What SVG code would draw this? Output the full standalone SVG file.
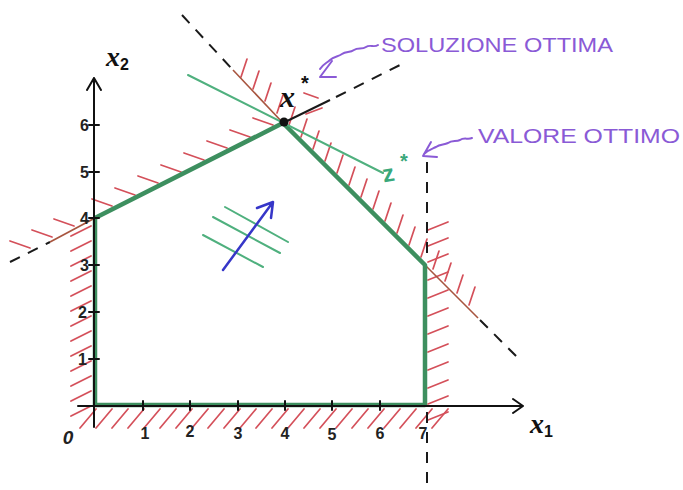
<svg xmlns="http://www.w3.org/2000/svg" width="683" height="490" viewBox="0 0 683 490">
<defs>
<style>
.hatch{fill:none;stroke:#d4505a;stroke-width:1.7;stroke-linecap:round}
.bound{fill:none;stroke:#a8553f;stroke-width:1.6}
.dash{fill:none;stroke:#1a1a1a;stroke-width:2;stroke-dasharray:11 9}
.poly{fill:none;stroke:#3d8f5f;stroke-width:4.5;stroke-linejoin:round}
.iso{fill:none;stroke:#4fb07e;stroke-width:2;stroke-linecap:round}
.axis{fill:none;stroke:#111;stroke-width:2;stroke-linecap:round;stroke-linejoin:round}
.tick{font-family:"Liberation Sans",Arial,sans-serif;font-weight:bold;font-size:16px;fill:#222}
.lab{font-family:"Liberation Sans",Arial,sans-serif;fill:#8a5ad6;font-size:21px}
.purp{fill:none;stroke:#8a5ad6;stroke-width:2;stroke-linecap:round;stroke-linejoin:round}
</style>
</defs>
<rect width="683" height="490" fill="#fff"/>

<g id="hatching">
<path class="hatch" d="M241,77 l6,-18 M253,89 l6,-18 M265,101 l6,-18 M277,113 l6,-18 M289,125 l6,-18 M301,137 l6,-18 M313,149 l6,-18 M325,161 l6,-18 M337,173 l6,-18 M349,185 l6,-18 M361,197 l6,-18 M373,209 l6,-18 M385,221 l6,-18 M397,233 l6,-18 M409,245 l6,-18 M421,257 l6,-18 M433,269 l6,-18 M445,281 l6,-18 M457,293 l6,-18 M469,305 l6,-18"/>
<path class="hatch" d="M30,248 l-20,-7 M52,237 l-20,-7 M74,226 l-20,-7 M112,206 l-20,-7 M135,195 l-20,-7 M158,183 l-20,-7 M181,172 l-20,-7 M204,160 l-20,-7 M227,148 l-20,-7 M250,137 l-20,-7 M273,125 l-20,-7 M318,98 l-14,-5 M322,108 l-16,6"/>
<path class="hatch" d="M428,230 l20,-8 M428,246 l20,-8 M428,262 l20,-8 M428,280 l20,-8 M428,298 l20,-8 M428,316 l20,-8 M428,334 l20,-8 M428,352 l20,-8 M428,370 l20,-8 M428,388 l20,-8 M428,404 l20,-8 M428,420 l20,-8"/>
<path class="hatch" d="M91,226 l-20,10 M91,241 l-20,10 M91,256 l-20,10 M91,271 l-20,10 M91,286 l-20,10 M91,301 l-20,10 M91,316 l-20,10 M91,331 l-20,10 M91,346 l-20,10 M91,361 l-20,10 M91,376 l-20,10 M91,391 l-20,10 M91,406 l-20,10"/>
<path class="hatch" d="M80,428 l16,-19 M96,428 l16,-19 M112,428 l16,-19 M128,428 l16,-19 M144,428 l16,-19 M160,428 l16,-19 M176,428 l16,-19 M192,428 l16,-19 M208,428 l16,-19 M224,428 l16,-19 M240,428 l16,-19 M256,428 l16,-19 M272,428 l16,-19 M288,428 l16,-19 M304,428 l16,-19 M320,428 l16,-19 M336,428 l16,-19 M352,428 l16,-19 M368,428 l16,-19 M384,428 l16,-19 M400,428 l16,-19 M416,428 l16,-19 M432,428 l16,-19"/>
</g>

<g id="constraints">
<line class="dash" x1="182" y1="15" x2="233" y2="70"/>
<line class="bound" x1="233" y1="70" x2="283" y2="123"/>
<line class="bound" x1="425" y1="265" x2="478" y2="318"/>
<line class="dash" x1="480" y1="320" x2="522" y2="362"/>
<line class="dash" x1="10" y1="262" x2="50" y2="242"/>
<line class="bound" x1="50" y1="242" x2="95" y2="218"/>
<line x1="283" y1="123" x2="330" y2="100" stroke="#1a1a1a" stroke-width="2"/>
<line class="dash" x1="336" y1="97" x2="400" y2="65"/>
<line class="dash" x1="427" y1="162" x2="427" y2="262"/>
<line class="dash" x1="427" y1="412" x2="427" y2="490"/>
</g>

<g id="feasible-region">
<polygon class="poly" points="95,218 283,123 425,265 425,405 95,405"/>
</g>

<g id="axes">
<path class="axis" d="M78,406 L523,406 M513,399 L523,406 L513,413"/>
<path class="axis" d="M94,427 L94,78 M87,90 L94,78 L101,90"/>
<path class="axis" d="M89,125 h10 M89,172 h10 M89,218 h10 M89,265 h10 M89,312 h10 M89,359 h10 M143,401 v9 M190,401 v9 M238,401 v9 M285,401 v9 M332,401 v9 M380,401 v9"/>
<text class="tick" x="89" y="131" text-anchor="end">6</text>
<text class="tick" x="89" y="178" text-anchor="end">5</text>
<text class="tick" x="89" y="224" text-anchor="end">4</text>
<text class="tick" x="89" y="271" text-anchor="end">3</text>
<text class="tick" x="87" y="318" text-anchor="end">2</text>
<text class="tick" x="87" y="365" text-anchor="end">1</text>
<text class="tick" x="145" y="439" text-anchor="middle">1</text>
<text class="tick" x="190" y="437" text-anchor="middle">2</text>
<text class="tick" x="238" y="439" text-anchor="middle">3</text>
<text class="tick" x="285" y="439" text-anchor="middle">4</text>
<text class="tick" x="332" y="440" text-anchor="middle">5</text>
<text class="tick" x="380" y="439" text-anchor="middle">6</text>
<text class="tick" x="423" y="439" text-anchor="middle">7</text>
<text class="tick" x="68" y="444" text-anchor="middle" style="font-size:19px;font-style:italic">0</text>
<text x="530" y="433" font-family="Liberation Serif,serif" font-style="italic" font-weight="bold" font-size="28" fill="#111">x<tspan font-family="Liberation Sans,sans-serif" font-style="normal" font-size="16" dy="4">1</tspan></text>
<text x="106" y="66" font-family="Liberation Serif,serif" font-style="italic" font-weight="bold" font-size="28" fill="#111">x<tspan font-family="Liberation Sans,sans-serif" font-style="normal" font-size="16" dy="4">2</tspan></text>
</g>

<g id="objective">
<line class="iso" x1="188" y1="75" x2="383" y2="173"/>
<line class="iso" x1="225" y1="207" x2="288" y2="242"/>
<line class="iso" x1="213" y1="217" x2="280" y2="253"/>
<line class="iso" x1="203" y1="235" x2="263" y2="267"/>
<path d="M223,270 L273,202 M257,208 L273,202 L271,218" fill="none" stroke="#3636c8" stroke-width="2.5" stroke-linecap="round" stroke-linejoin="round"/>
<text x="382" y="181" font-family="Liberation Sans,sans-serif" font-weight="bold" font-size="24" fill="#3aa87a" transform="rotate(-10 392 172)">z</text>
<text x="400" y="168" font-family="Liberation Sans,sans-serif" font-weight="bold" font-size="20" fill="#3aa87a">*</text>
</g>

<g id="optimum">
<circle cx="284" cy="122" r="4.5" fill="#111"/>
<text x="280" y="107" font-family="Liberation Serif,serif" font-style="italic" font-weight="bold" font-size="30" fill="#111">x</text>
<text x="301" y="90" font-family="Liberation Sans,sans-serif" font-weight="bold" font-size="20" fill="#111">*</text>
</g>

<g id="label-soluzione">
<text class="lab" x="381" y="52" textLength="232" lengthAdjust="spacingAndGlyphs">SOLUZIONE OTTIMA</text>
<path class="purp" d="M378,45 c-4,3 -8,-1 -12,2 c-4,3 -8,0 -12,3 c-4,3 -8,1 -12,4 c-4,3 -8,2 -12,6 c-3,3 -7,4 -10,9 M332,61 L320,77 L336,77"/>
</g>

<g id="label-valore">
<text class="lab" x="478" y="143" textLength="202" lengthAdjust="spacingAndGlyphs">VALORE OTTIMO</text>
<path class="purp" d="M472,138 c-4,2 -8,-1 -12,2 c-4,2 -8,0 -12,3 c-4,2 -8,1 -12,4 c-4,2 -8,3 -12,7 M431,142 L423,156 L437,157"/>
</g>
</svg>
